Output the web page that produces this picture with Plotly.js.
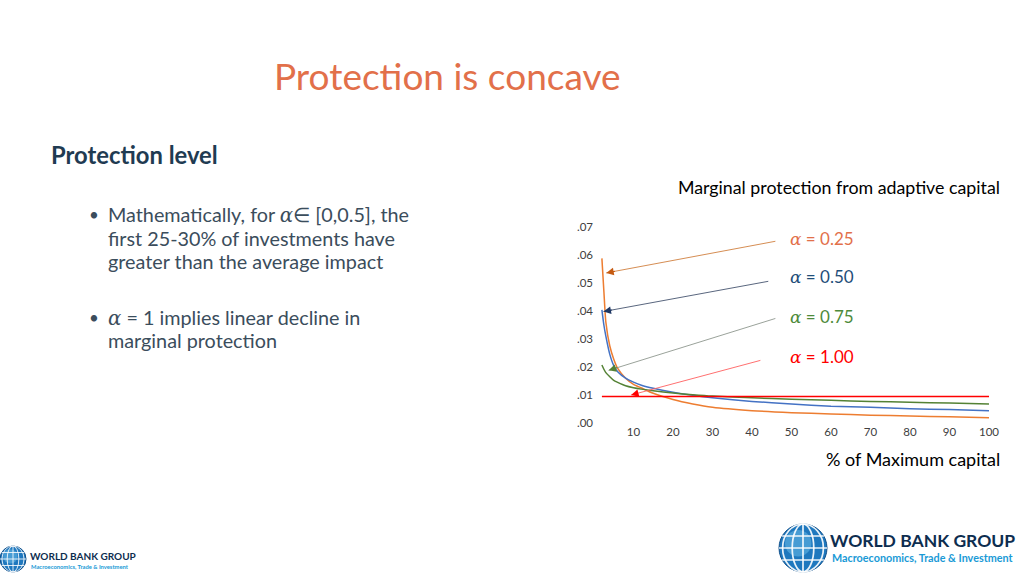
<!DOCTYPE html>
<html>
<head>
<meta charset="utf-8">
<script src="https://cdn.plot.ly/plotly-3.0.1.min.js"></script>
<style>html,body{margin:0;padding:0;background:#fff;}#chart{width:1024px;height:576px;}</style>
</head>
<body>
<div id="chart"></div>
<script>
// ---- data ----
const capitalPct = [2, 2.5, 3, 4, 5, 6, 8, 10, 12, 15, 20, 25, 30, 40, 50, 60, 70, 80, 90, 100];
const alpha025 = [0.0588, 0.047, 0.036, 0.0275, 0.0228, 0.0195, 0.016, 0.0138, 0.0125, 0.0106, 0.0084, 0.0068, 0.0056, 0.0044, 0.0037, 0.0032, 0.0028, 0.0025, 0.0022, 0.0019];
const alpha050 = [0.0404, 0.035, 0.031, 0.0245, 0.0205, 0.0183, 0.016, 0.0146, 0.0135, 0.0124, 0.011, 0.0099, 0.009, 0.0077, 0.0068, 0.006, 0.0056, 0.0051, 0.0048, 0.0044];
const alpha075 = [0.0207, 0.0192, 0.018, 0.0165, 0.0152, 0.0145, 0.0133, 0.0126, 0.0121, 0.0115, 0.0107, 0.0101, 0.0096, 0.009, 0.0085, 0.0081, 0.0077, 0.0074, 0.0071, 0.0068];
const alpha100 = [0.0095, 0.0095, 0.0095, 0.0095, 0.0095, 0.0095, 0.0095, 0.0095, 0.0095, 0.0095, 0.0095, 0.0095, 0.0095, 0.0095, 0.0095, 0.0095, 0.0095, 0.0095, 0.0095, 0.0095];
const seriesValues = ["0.25", "0.50", "0.75", "1.00"];
const xTickVals = [10, 20, 30, 40, 50, 60, 70, 80, 90, 100];
const xTickText = ["10", "20", "30", "40", "50", "60", "70", "80", "90", "100"];
const yTickVals = [0, 0.01, 0.02, 0.03, 0.04, 0.05, 0.06, 0.07];
const yTickText = [".00", ".01", ".02", ".03", ".04", ".05", ".06", ".07"];

// ---- layout helpers (page pixel -> paper) ----
const W = 1024, H = 576;
const M = {l: 594, r: 35, t: 227, b: 153};
const PW = W - M.l - M.r, PH = H - M.t - M.b;
const px = x => (x - M.l) / PW;
const py = y => (H - M.b - y) / PH;

const FONT = "Lato, 'Open Sans', sans-serif";
const ALPHA = "<span style='font-family:DejaVu Serif'><i>α</i></span>";
const colors = ["#ED7D31", "#4472C4", "#548235", "#FF0000"];
const labelColors = ["#E2704A", "#1F4E79", "#4E8A3A", "#FF0000"];
const arrowColors = ["#D08040", "#46556F", "#8F978F", "#FF6060"];
const headColors = ["#C55A11", "#1F3864", "#548235", "#FF0000"];
const ys = [alpha025, alpha050, alpha075, alpha100];

const traces = ys.map((y, i) => ({
  x: capitalPct, y: y, type: "scatter", mode: "lines", name: "α = " + seriesValues[i],
  line: {color: colors[i], width: 1.5, shape: "spline", smoothing: 0.6},
  hoverinfo: "skip"
}));

// arrow annotations: head on curve (data), tail near label
const arrowHeads = [[3.1, 0.0536], [2.4, 0.0398], [3.7, 0.0188], [9.4, 0.0100]];
const arrowTails = [[46.3, 0.0650], [44.5, 0.0507], [46.3, 0.0375], [42.5, 0.0225]];
const labelPos = [[49.0, 0.0660], [49.0, 0.0525], [49.0, 0.0382], [49.0, 0.0236]];

const annotations = [];
for (let i = 0; i < 4; i++) {
  const h = arrowHeads[i], t = arrowTails[i];
  annotations.push({
    x: h[0], y: h[1], xref: "x", yref: "y",
    ax: t[0], ay: t[1], axref: "x", ayref: "y",
    showarrow: true, arrowhead: 0, arrowwidth: 0.9,
    arrowcolor: arrowColors[i], text: ""
  });
  // coloured arrow head on a short stub of the same line
  annotations.push({
    x: h[0], y: h[1], xref: "x", yref: "y",
    ax: h[0] + (t[0] - h[0]) * 0.06, ay: h[1] + (t[1] - h[1]) * 0.06, axref: "x", ayref: "y",
    showarrow: true, arrowhead: 2, arrowsize: 1.5, arrowwidth: 1,
    arrowcolor: headColors[i], text: ""
  });
  annotations.push({
    x: labelPos[i][0], y: labelPos[i][1], xref: "x", yref: "y",
    xanchor: "left", yanchor: "middle", showarrow: false,
    text: ALPHA + " = " + seriesValues[i],
    font: {family: FONT, size: 17, color: labelColors[i]}
  });
}

function txt(text, x, y, opts) {
  return Object.assign({
    text: text, x: px(x), y: py(y), xref: "paper", yref: "paper",
    showarrow: false, xanchor: "left", yanchor: "middle", align: "left",
    font: {family: FONT, size: 19.8, color: "#3B4D5C"}
  }, opts || {});
}

annotations.push(txt("Protection is concave", 447, 75, {xanchor: "center", font: {family: FONT, size: 37, color: "#E2704A"}}));
annotations.push(txt("<b>Protection level</b>", 49, 155, {font: {family: FONT, size: 23.8, color: "#1F3B52"}}));
annotations.push(txt("•", 87, 214, {font: {family: FONT, size: 17, color: "#3B4D5C"}}));
annotations.push(txt("Mathematically, for " + ALPHA + "∈ [0,0.5], the", 106, 214));
annotations.push(txt("first 25-30% of investments have", 106, 238));
annotations.push(txt("greater than the average impact", 106, 261));
annotations.push(txt("•", 87, 317, {font: {family: FONT, size: 17, color: "#3B4D5C"}}));
annotations.push(txt(ALPHA + " = 1 implies linear decline in", 106, 317));
annotations.push(txt("marginal protection", 106, 340));
annotations.push(txt("Marginal protection from adaptive capital", 1002, 187, {xanchor: "right", font: {family: FONT, size: 17.8, color: "#000"}}));
annotations.push(txt("% of Maximum capital", 1002, 459, {xanchor: "right", font: {family: FONT, size: 18, color: "#000"}}));

// logos
annotations.push(txt("<b>WORLD BANK GROUP</b>", 828, 540, {font: {family: FONT, size: 17.5, color: "#0D2D4F"}}));
annotations.push(txt("<b>Macroeconomics, Trade &amp; Investment</b>", 830, 557, {font: {family: FONT, size: 10.8, color: "#1A9AD6"}}));
annotations.push(txt("<b>WORLD BANK GROUP</b>", 28, 556, {font: {family: FONT, size: 10, color: "#0D2D4F"}}));
annotations.push(txt("<b>Macroeconomics, Trade &amp; Investment</b>", 29, 566, {font: {family: FONT, size: 5.8, color: "#1A9AD6"}}));

function globe(cx, cy, r) {
  const s = [];
  const sh = (type, x0, y0, x1, y1, extra) => s.push(Object.assign({
    type: type, xref: "paper", yref: "paper",
    x0: px(x0), y0: py(y0), x1: px(x1), y1: py(y1), layer: "above"
  }, extra));
  sh("circle", cx - r, cy - r, cx + r, cy + r, {fillcolor: "#1F78BE", line: {color: "#0F4F8A", width: 1}});
  sh("circle", cx - r * 0.75, cy - r * 0.75, cx + r * 0.35, cy + r * 0.35, {fillcolor: "rgba(120,200,240,0.45)", line: {width: 0}});
  const wl = {color: "rgba(255,255,255,0.9)", width: Math.max(0.8, r / 14)};
  sh("circle", cx - r * 0.45, cy - r, cx + r * 0.45, cy + r, {line: wl});
  sh("circle", cx - r * 0.85, cy - r, cx + r * 0.85, cy + r, {line: wl});
  sh("line", cx, cy - r, cx, cy + r, {line: wl});
  sh("line", cx - r, cy, cx + r, cy, {line: wl});
  sh("line", cx - r * 0.87, cy - r * 0.5, cx + r * 0.87, cy - r * 0.5, {line: wl});
  sh("line", cx - r * 0.87, cy + r * 0.5, cx + r * 0.87, cy + r * 0.5, {line: wl});
  return s;
}
const shapes = [].concat(globe(803, 548, 24), globe(13, 559, 13));

const layout = {
  width: W, height: H, margin: M,
  paper_bgcolor: "#fff", plot_bgcolor: "#fff",
  showlegend: false,
  font: {family: FONT, size: 11, color: "#404040"},
  xaxis: {range: [0, 100], tickvals: xTickVals, ticktext: xTickText, showgrid: false,
          zeroline: false, showline: false, ticks: "", tickfont: {family: FONT, size: 11.5, color: "#404040"}},
  yaxis: {range: [0, 0.07], tickvals: yTickVals, ticktext: yTickText, showgrid: false,
          zeroline: false, showline: false, ticks: "", tickfont: {family: FONT, size: 11.5, color: "#404040"}},
  annotations: annotations,
  shapes: shapes
};

Plotly.newPlot("chart", traces, layout, {staticPlot: true, displayModeBar: false});
</script>
</body>
</html>
